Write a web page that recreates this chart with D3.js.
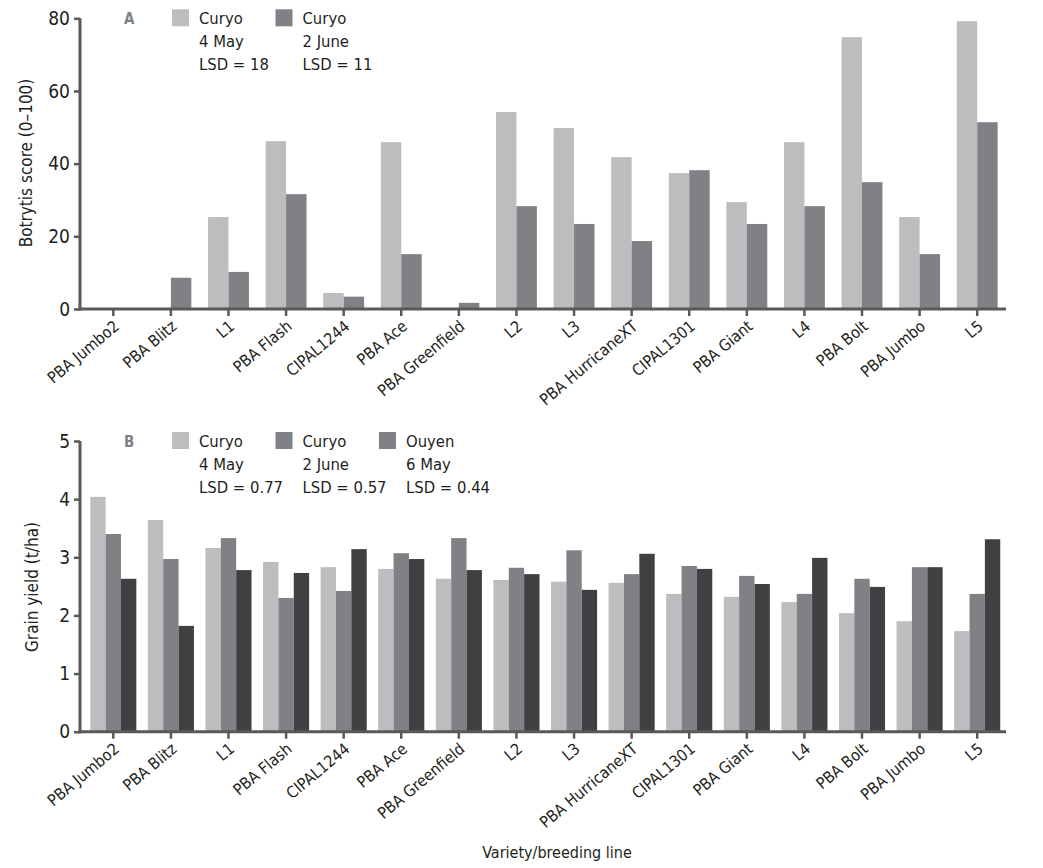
<!DOCTYPE html>
<html>
<head>
<meta charset="utf-8">
<script src="https://cdn.jsdelivr.net/npm/d3@7"></script>
<style>
  body { margin: 0; background: #fff; }
  svg text { font-family: "Liberation Sans Narrow", "DejaVu Sans Condensed", "Roboto Condensed", sans-serif; font-stretch: condensed; fill: #231f20; }
</style>
</head>
<body>
<div class="canvas"></div>
<script>
// data
var varieties = ["PBA Jumbo2", "PBA Blitz", "L1", "PBA Flash", "CIPAL1244", "PBA Ace", "PBA Greenfield",
  "L2", "L3", "PBA HurricaneXT", "CIPAL1301", "PBA Giant", "L4", "PBA Bolt", "PBA Jumbo", "L5"]

// panel A - botrytis score
var botrytis_may = [0, 0, 25.3, 46.2, 4.4, 45.9, 0, 54.2, 49.8, 41.8, 37.4, 29.4, 45.9, 74.8, 25.3, 79.2]
var botrytis_june = [0, 8.6, 10.2, 31.6, 3.4, 15.1, 1.7, 28.3, 23.4, 18.7, 38.2, 23.4, 28.3, 34.9, 15.1, 51.4]
var botrytis_ticks = [0, 20, 40, 60, 80]
var legend_a = [["Curyo", "4 May", "LSD = 18"], ["Curyo", "2 June", "LSD = 11"]]

// panel B - grain yield
var yield_curyo_may = [4.04, 3.64, 3.16, 2.92, 2.83, 2.80, 2.63, 2.61, 2.58, 2.56, 2.37, 2.32, 2.23, 2.04, 1.90, 1.73]
var yield_curyo_june = [3.40, 2.97, 3.33, 2.30, 2.42, 3.07, 3.33, 2.82, 3.12, 2.71, 2.85, 2.68, 2.37, 2.63, 2.83, 2.37]
var yield_ouyen = [2.63, 1.82, 2.78, 2.73, 3.14, 2.97, 2.78, 2.71, 2.44, 3.06, 2.80, 2.54, 2.99, 2.49, 2.83, 3.31]
var yield_ticks = [0, 1, 2, 3, 4, 5]
var legend_b = [["Curyo", "4 May", "LSD = 0.77"], ["Curyo", "2 June", "LSD = 0.57"], ["Ouyen", "6 May", "LSD = 0.44"]]

var light = '#bcbdbf', mid = '#808184', dark = '#404042', axis_col = '#58595b'

var svg = d3.select(".canvas").append("svg").attr("width", 1043).attr("height", 868)

var left = 80, right = 1006

function panel(opts) {
    var g = svg.append('g')

    var x = d3.scaleBand().domain(varieties).range([84.5, right])
        .paddingInner(opts.inner).paddingOuter(opts.inner / 2)
    var sub = d3.scaleBand().domain(d3.range(opts.series.length)).range([0, x.bandwidth()])
    var y = d3.scaleLinear().domain(opts.domain).range([opts.bottom, opts.top])

    // bars
    opts.series.forEach(function(vals, s) {
        g.selectAll('.bar' + s)
            .data(vals)
            .enter().append('rect')
            .attr('x', (d, i) => x(varieties[i]) + sub(s))
            .attr('width', sub.bandwidth())
            .attr('y', d => y(d))
            .attr('height', d => y(0) - y(d))
            .attr('fill', opts.colors[s])
    })

    // y axis
    var ya = g.append('g')
        .attr('transform', 'translate(' + left + ',0)')
        .call(d3.axisLeft(y).tickValues(opts.ticks).tickFormat(d3.format('d'))
            .tickSize(6).tickSizeOuter(0).tickPadding(4))
    ya.select('.domain').remove()
    ya.selectAll('.tick line').attr('stroke', axis_col).attr('stroke-width', 2.5)
    ya.selectAll('.tick text').attr('font-size', 19).style('font-family', null)
    g.append('line')
        .attr('x1', left).attr('x2', left)
        .attr('y1', opts.top).attr('y2', opts.bottom + 1.5)
        .attr('stroke', axis_col).attr('stroke-width', 3)

    // x axis
    var xa = g.append('g')
        .attr('transform', 'translate(0,' + opts.bottom + ')')
        .call(d3.axisBottom(x).tickSize(7).tickSizeOuter(0))
    xa.select('.domain').remove()
    xa.selectAll('.tick line').attr('stroke', axis_col).attr('stroke-width', 2.5)
    xa.selectAll('.tick text')
        .attr('font-size', 16)
        .style('font-family', null)
        .attr('text-anchor', 'end')
        .attr('y', 0).attr('dy', 0)
        .attr('transform', 'translate(7,19) rotate(-40)')
    g.append('line')
        .attr('x1', left - 1.5).attr('x2', right)
        .attr('y1', opts.bottom).attr('y2', opts.bottom)
        .attr('stroke', axis_col).attr('stroke-width', 3)

    // y axis title
    g.append('text')
        .attr('transform', 'translate(' + opts.title_x + ',' + opts.title_y + ') rotate(-90)')
        .attr('text-anchor', 'middle')
        .attr('font-size', 17)
        .text(opts.title)

    // panel letter
    g.append('text')
        .attr('x', 124).attr('y', opts.top + 6)
        .attr('font-size', 15).attr('font-weight', 'bold')
        .style('fill', mid)
        .text(opts.letter)

    // legend
    opts.legend.forEach(function(lines, k) {
        var lx = 172 + k * 103.5
        g.append('rect')
            .attr('x', lx).attr('y', opts.top - 9)
            .attr('width', 17).attr('height', 17)
            .attr('fill', opts.legend_colors[k])
        lines.forEach(function(t, j) {
            g.append('text')
                .attr('x', lx + 27).attr('y', opts.top + 6 + j * 23)
                .attr('font-size', 16.5)
                .text(t)
        })
    })
}

panel({
    series: [botrytis_may, botrytis_june],
    colors: [light, mid],
    legend_colors: [light, mid],
    legend: legend_a,
    domain: [0, 80], ticks: botrytis_ticks,
    top: 18.3, bottom: 309,
    inner: 0.29,
    title: 'Botrytis score (0\u2013100)', title_x: 32, title_y: 163,
    letter: 'A'
})

panel({
    series: [yield_curyo_may, yield_curyo_june, yield_ouyen],
    colors: [light, mid, dark],
    legend_colors: [light, mid, mid],
    legend: legend_b,
    domain: [0, 5], ticks: yield_ticks,
    top: 441, bottom: 731.7,
    inner: 0.2,
    title: 'Grain yield (t/ha)', title_x: 38, title_y: 587,
    letter: 'B'
})

svg.append('text')
    .attr('x', 557).attr('y', 858)
    .attr('text-anchor', 'middle')
    .attr('font-size', 16)
    .text('Variety/breeding line')
</script>
</body>
</html>
